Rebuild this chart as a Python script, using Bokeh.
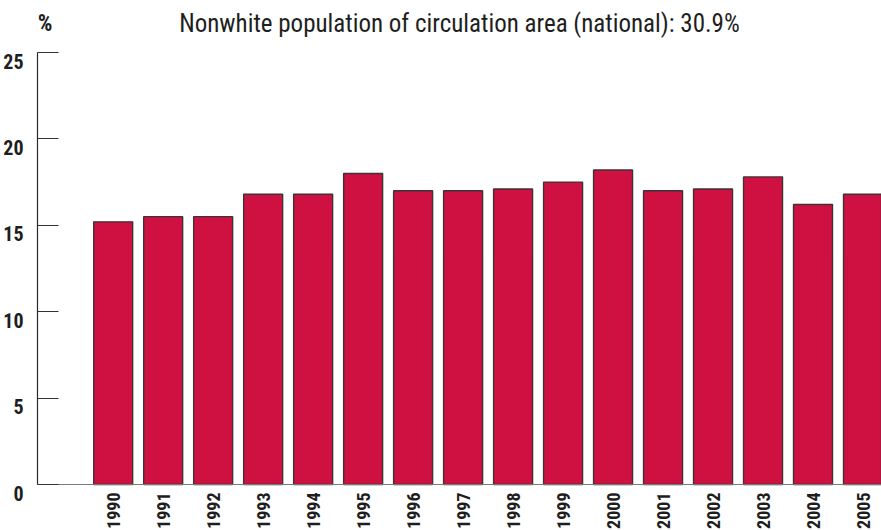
from bokeh.plotting import figure
from bokeh.models import Range1d, FixedTicker, Label, ColumnDataSource
from bokeh.core.properties import value
from bokeh.embed import file_html
from bokeh.resources import INLINE
import math

# Share of nonwhite staff, by year (%)
years = [1990, 1991, 1992, 1993, 1994, 1995, 1996, 1997,
         1998, 1999, 2000, 2001, 2002, 2003, 2004, 2005]
shares = [15.2, 15.5, 15.5, 16.8, 16.8, 18.0, 17.0, 17.0,
          17.1, 17.5, 18.2, 17.0, 17.1, 17.8, 16.2, 16.8]
y_ticks = [0, 5, 10, 15, 20, 25]

subtitle = "Nonwhite population of circulation area (national): 30.9%"
unit_label = "%"

FONT = "Roboto Condensed"
BAR_RED = "#cf1141"
INK = "#1e1e1e"

# the frame fills the canvas; both axes sit inside it at fixed locations
x_lo, x_hi = years[0] - 2.254, years[-1] + 0.37
axis_x = years[0] - 1.514
y_lo, y_top = -2.662, 28.01

p = figure(width=881, height=530, output_backend="svg", toolbar_location=None,
           x_range=Range1d(x_lo, x_hi), y_range=Range1d(y_lo, y_top),
           min_border_left=0, min_border_right=0,
           min_border_top=0, min_border_bottom=0)
p.outline_line_color = None
p.background_fill_color = "white"
p.border_fill_color = "white"
p.grid.visible = False

p.vbar(x=years, top=shares, width=0.78, bottom=0,
       fill_color=BAR_RED, line_color="#3b3336", line_width=1.4)

# y axis: spans 0-25 with inward ticks; its labels hang below each tick
ya = p.yaxis[0]
ya.ticker = FixedTicker(ticks=y_ticks)
ya.fixed_location = axis_x
ya.bounds = (0, 25)
ya.axis_line_color = "#2a2a2a"
ya.axis_line_width = 1.2
ya.major_tick_in = 21
ya.major_tick_out = 0
ya.minor_tick_in = 0
ya.minor_tick_out = 0
ya.major_tick_line_color = "#333333"
ya.major_tick_line_width = 1.2
ya.minor_tick_line_color = None
ya.major_label_overrides = {t: "" for t in y_ticks}
ya.major_label_standoff = 0

ytick_src = ColumnDataSource(dict(x=[axis_x] * len(y_ticks), y=y_ticks,
                                  text=[str(t) for t in y_ticks]))
p.text(x="x", y="y", text="text", source=ytick_src, x_offset=-14, y_offset=1,
       text_align="right", text_baseline="top",
       text_font=value(FONT), text_font_style="bold",
       text_font_size="20px", text_color=INK)

# x axis: plain baseline at zero, year labels reading upward beneath it
xa = p.xaxis[0]
xa.ticker = FixedTicker(ticks=years)
xa.fixed_location = 0
xa.bounds = (axis_x, x_hi)
xa.axis_line_color = "#7a7a7a"
xa.axis_line_width = 1.2
xa.major_tick_in = 0
xa.major_tick_out = 0
xa.minor_tick_in = 0
xa.minor_tick_out = 0
xa.major_tick_line_color = None
xa.minor_tick_line_color = None
xa.major_label_overrides = {t: "" for t in years}
xa.major_label_standoff = 0

xtick_src = ColumnDataSource(dict(x=years, y=[0] * len(years),
                                  text=[str(y) for y in years]))
p.text(x="x", y="y", text="text", source=xtick_src, y_offset=8,
       angle=math.pi / 2, text_align="right", text_baseline="middle",
       text_font=value(FONT), text_font_style="bold",
       text_font_size="18px", text_color=INK)

p.add_layout(Label(x=(axis_x + x_hi) / 2, y=26.68,
                   text=subtitle, text_align="center", text_baseline="alphabetic",
                   text_font=FONT, text_font_size="25px", text_color=INK))
p.add_layout(Label(x=1988.636, y=26.68, text=unit_label,
                   text_align="center", text_baseline="alphabetic",
                   text_font=FONT, text_font_style="bold",
                   text_font_size="23px", text_color=INK))

open("out.html", "w").write(file_html(p, INLINE))
